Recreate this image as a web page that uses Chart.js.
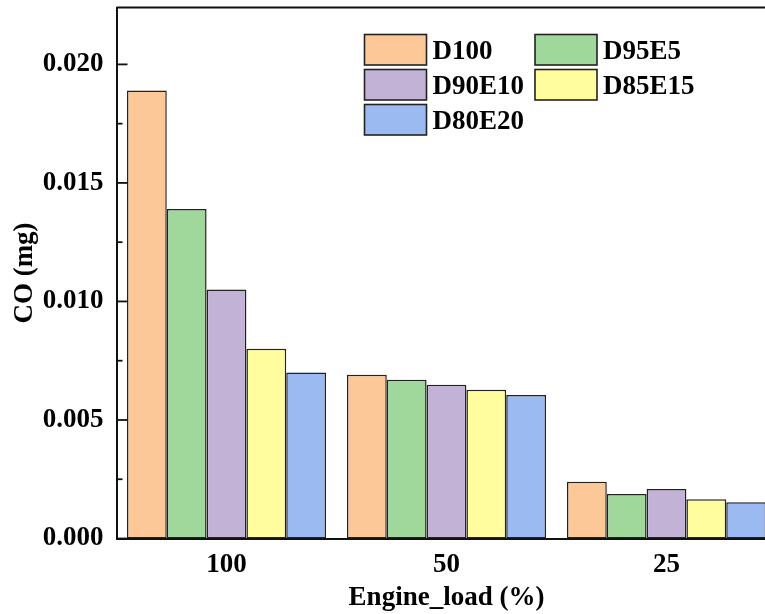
<!DOCTYPE html>
<html>
<head>
<meta charset="utf-8">
<script src="https://cdn.jsdelivr.net/npm/chart.js@4.4.1/dist/chart.umd.min.js"></script>
<style>
  html, body { margin: 0; padding: 0; background: #fff; overflow: hidden; }
  #clip { width: 765px; height: 614px; overflow: hidden; position: relative; }
  canvas { display: block; }
</style>
</head>
<body>
<div id="clip"><canvas id="c" width="790" height="614"></canvas></div>
<script>
const categories = ['100', '50', '25'];
const seriesNames = ['D100', 'D95E5', 'D90E10', 'D85E15', 'D80E20'];
const d100   = [0.0189, 0.00691, 0.00239];
const d95e5  = [0.0139, 0.00670, 0.00188];
const d90e10 = [0.0105, 0.00649, 0.00209];
const d85e15 = [0.0080, 0.00628, 0.00166];
const d80e20 = [0.0070, 0.00605, 0.00153];
const seriesColors = ['#FCC897', '#A0D89C', '#C2B2D6', '#FFFD9E', '#9BBAF1'];
const yTicks = [0, 0.005, 0.010, 0.015, 0.020];
const yMinorTicks = [0.0025, 0.0075, 0.0125, 0.0175];
const xTitle = 'Engine_load (%)';
const yTitle = 'CO (mg)';

const FONT = 'Liberation Serif';
const FS = 27;
const values = [d100, d95e5, d90e10, d85e15, d80e20];

const datasets = seriesNames.map((name, i) => ({
  label: name,
  data: values[i],
  backgroundColor: seriesColors[i],
  borderColor: '#222',
  borderWidth: 1.5,
  borderSkipped: false,
  categoryPercentage: 0.905,
  barPercentage: 1.0
}));

const decorPlugin = {
  id: 'decor',
  afterDraw(chart) {
    const ctx = chart.ctx;
    const ca = chart.chartArea;
    const ys = chart.scales.y;
    ctx.save();
    ctx.strokeStyle = '#111';
    ctx.lineWidth = 1.8;
    ctx.beginPath();
    ctx.moveTo(ca.left, ca.top);
    ctx.lineTo(ca.right + 5, ca.top);
    ctx.stroke();
    ctx.lineWidth = 1.8;
    yTicks.forEach(v => {
      const p = ys.getPixelForValue(v);
      ctx.beginPath(); ctx.moveTo(ca.left, p); ctx.lineTo(ca.left + 11, p); ctx.stroke();
    });
    yMinorTicks.forEach(v => {
      const p = ys.getPixelForValue(v);
      ctx.beginPath(); ctx.moveTo(ca.left, p); ctx.lineTo(ca.left + 6, p); ctx.stroke();
    });
    const colX = [364.5, 535];
    const rowY = [34.5, 69.5, 104.5];
    const sw = 62, sh = 30.5;
    ctx.font = 'bold ' + FS + 'px "' + FONT + '"';
    ctx.textBaseline = 'middle';
    ctx.textAlign = 'left';
    chart.data.datasets.forEach((ds, i) => {
      const col = i % 2, row = Math.floor(i / 2);
      const x = colX[col], y = rowY[row];
      ctx.fillStyle = ds.backgroundColor;
      ctx.fillRect(x, y, sw, sh);
      ctx.strokeStyle = '#222';
      ctx.lineWidth = 1.6;
      ctx.strokeRect(x, y, sw, sh);
      ctx.fillStyle = '#000';
      ctx.fillText(ds.label, x + sw + 6, y + sh / 2 + 2);
    });
    ctx.restore();
  }
};

new Chart(document.getElementById('c'), {
  type: 'bar',
  data: { labels: categories, datasets },
  options: {
    responsive: false,
    devicePixelRatio: 1,
    animation: false,
    layout: { padding: { top: 7.5, right: 13.5, left: 0, bottom: 0 } },
    plugins: { legend: { display: false }, tooltip: { enabled: false } },
    scales: {
      x: {
        grid: { display: false, drawTicks: false },
        border: { display: true, color: '#111', width: 2 },
        ticks: { color: '#000', padding: 10, font: { family: FONT, size: FS, weight: 'bold' } },
        title: { display: true, text: xTitle, color: '#000', padding: { top: 0, bottom: 0 }, font: { family: FONT, size: FS, weight: 'bold' } },
        afterFit(scale) { scale.height = 75.5; scale.paddingLeft = 0; scale.paddingRight = 0; }
      },
      y: {
        min: 0,
        max: 0.0224,
        grid: { display: false, drawTicks: false },
        border: { display: true, color: '#111', width: 2 },
        afterBuildTicks(scale) { scale.ticks = yTicks.map(v => ({ value: v })); },
        ticks: {
          color: '#000', padding: 13,
          font: { family: FONT, size: FS, weight: 'bold' },
          callback: v => Number(v).toFixed(3)
        },
        title: { display: true, text: yTitle, color: '#000', padding: { top: 9, bottom: 0 }, font: { family: FONT, size: FS, weight: 'bold' } },
        afterFit(scale) { scale.width = 116.5; scale.paddingTop = 0; scale.paddingBottom = 0; }
      }
    }
  },
  plugins: [decorPlugin]
});
</script>
</body>
</html>
